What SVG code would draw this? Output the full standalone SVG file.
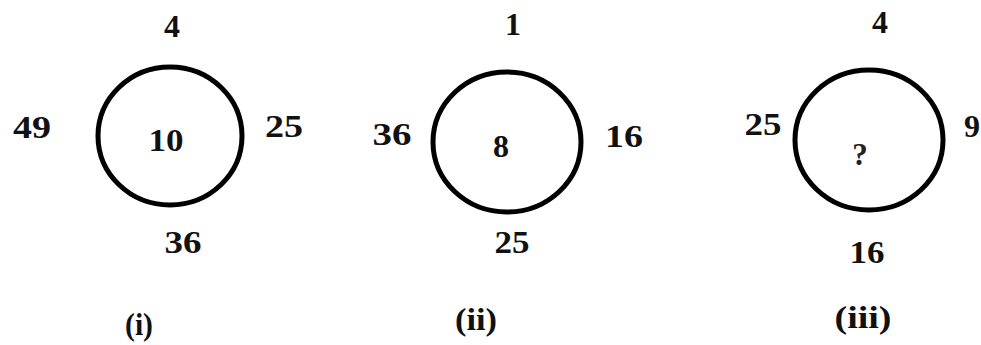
<svg xmlns="http://www.w3.org/2000/svg" width="981" height="345" viewBox="0 0 981 345">
<style>
.c{fill:none;stroke:#000;stroke-width:5}
.t{font-family:"Liberation Serif",serif;font-weight:bold;font-size:32px;fill:#111;text-anchor:middle}
.q{font-family:"Liberation Serif",serif;font-weight:bold;font-size:31px;fill:#222;text-anchor:middle}
</style>
<rect width="981" height="345" fill="#fff"/>
<g id="fig1">
<ellipse class="c" cx="170" cy="136" rx="72" ry="69"/>
<text class="t" x="172" y="37">4</text>
<text class="t" x="32" y="138" textLength="38" lengthAdjust="spacingAndGlyphs">49</text>
<text class="t" x="166" y="151" textLength="35" lengthAdjust="spacingAndGlyphs">10</text>
<text class="t" x="284" y="137" textLength="38" lengthAdjust="spacingAndGlyphs">25</text>
<text class="t" x="183" y="253" textLength="37" lengthAdjust="spacingAndGlyphs">36</text>
<text class="t" x="139" y="335" textLength="28" lengthAdjust="spacingAndGlyphs">(i)</text>
</g>
<g id="fig2">
<ellipse class="c" cx="507" cy="142" rx="74" ry="70"/>
<text class="t" x="513" y="35">1</text>
<text class="t" x="392" y="145" textLength="39" lengthAdjust="spacingAndGlyphs">36</text>
<text class="t" x="501" y="157">8</text>
<text class="t" x="624" y="147" textLength="38" lengthAdjust="spacingAndGlyphs">16</text>
<text class="t" x="512" y="253" textLength="35" lengthAdjust="spacingAndGlyphs">25</text>
<text class="t" x="476" y="330" textLength="42" lengthAdjust="spacingAndGlyphs">(ii)</text>
</g>
<g id="fig3">
<ellipse class="c" cx="869" cy="140" rx="74" ry="70"/>
<text class="t" x="880" y="33">4</text>
<text class="t" x="763" y="135" textLength="37" lengthAdjust="spacingAndGlyphs">25</text>
<text class="t" x="972" y="137">9</text>
<text class="q" x="860" y="165">?</text>
<text class="t" x="867" y="263" textLength="35" lengthAdjust="spacingAndGlyphs">16</text>
<text class="t" x="863" y="328" textLength="57" lengthAdjust="spacingAndGlyphs">(iii)</text>
</g>
</svg>
